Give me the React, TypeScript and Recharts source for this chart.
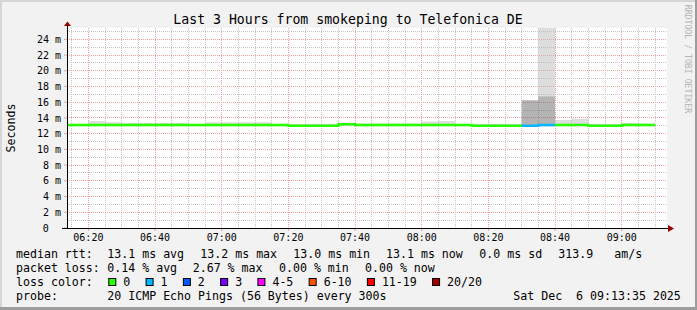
import { ComposedChart, Area, Line, XAxis, YAxis, CartesianGrid } from 'recharts';

// 5 minute slots (start time of each slot)
const slotTimes = [
  '06:10', '06:15', '06:20', '06:25', '06:30', '06:35', '06:40', '06:45', '06:50', '06:55',
  '07:00', '07:05', '07:10', '07:15', '07:20', '07:25', '07:30', '07:35', '07:40', '07:45',
  '07:50', '07:55', '08:00', '08:05', '08:10', '08:15', '08:20', '08:25', '08:30', '08:35',
  '08:40', '08:45', '08:50', '08:55', '09:00', '09:05',
];

// median rtt in ms
const medianRtt = [
  13.1, 13.1, 13.1, 13.1, 13.1, 13.1, 13.1, 13.1, 13.1, 13.1,
  13.1, 13.1, 13.1, 13.1, 13.0, 13.0, 13.0, 13.2, 13.1, 13.1,
  13.1, 13.1, 13.1, 13.1, 13.1, 13.0, 13.0, 13.0, 13.0, 13.1,
  13.1, 13.1, 13.0, 13.0, 13.1, 13.1,
];

// lost pings out of 20
const lostPings = [
  0, 0, 0, 0, 0, 0, 0, 0, 0, 0,
  0, 0, 0, 0, 0, 0, 0, 0, 0, 0,
  0, 0, 0, 0, 0, 0, 0, 0, 1, 1,
  0, 0, 0, 0, 0, 0,
];

// smoke: lowest ping, top of the dense part, highest ping (ms)
const smokeLow = [
  12.95, 12.95, 12.95, 12.95, 12.95, 12.95, 12.95, 12.95, 12.95, 12.95,
  12.95, 12.95, 12.95, 12.95, 12.9, 12.9, 12.9, 13.0, 12.95, 12.95,
  12.95, 12.95, 12.95, 12.95, 12.95, 12.9, 12.9, 12.9, 12.9, 12.95,
  12.95, 12.95, 12.9, 12.9, 12.95, 12.95,
];
const smokeDarkTop = [
  12.95, 12.95, 12.95, 12.95, 12.95, 12.95, 12.95, 12.95, 12.95, 12.95,
  12.95, 12.95, 12.95, 12.95, 13.15, 13.15, 13.15, 13.0, 12.95, 12.95,
  12.95, 12.95, 12.95, 12.95, 12.95, 13.15, 13.15, 13.15, 16.25, 16.76,
  12.95, 12.95, 13.15, 13.15, 12.95, 12.95,
];
const smokeTop = [
  13.2, 13.2, 13.6, 13.45, 13.35, 13.35, 13.35, 13.35, 13.2, 13.45,
  13.45, 13.45, 13.45, 13.2, 13.15, 13.15, 13.15, 13.4, 13.3, 13.3,
  13.3, 13.3, 13.55, 13.6, 13.2, 13.15, 13.15, 13.15, 16.25, 26,
  13.75, 13.9, 13.15, 13.15, 13.37, 13.3,
];

const timeTicks = ['06:20', '06:40', '07:00', '07:20', '07:40', '08:00', '08:20', '08:40', '09:00'];
const rttTicks = [0, 2, 4, 6, 8, 10, 12, 14, 16, 18, 20, 22, 24];

const lossLabels = ['0', '1', '2', '3', '4-5', '6-10', '11-19', '20/20'];
const lossColors = ['#26ff00', '#00b8ff', '#0059ff', '#7e00ff', '#ff00ff', '#ff5500', '#ff0000', '#a10000'];

const rttStats = ['13.1 ms avg', '13.2 ms max', '13.0 ms min', '13.1 ms now', '0.0 ms sd', '313.9', 'am/s'];
const lossStats = ['0.14 % avg', '2.67 % max', '0.00 % min', '0.00 % now'];

const MONO = '"DejaVu Sans Mono", monospace';

const toMin = (s: string) => {
  const [h, m] = s.split(':').map(Number);
  return h * 60 + m - 360;
};
const fmtMin = (v: number) => {
  const h = 6 + Math.floor(v / 60);
  const m = v % 60;
  return `${String(h).padStart(2, '0')}:${String(m).padStart(2, '0')}`;
};

const START = 13 + 35 / 60;
const END = START + 180;
const Y_MAX = 25.44;

const n = slotTimes.length;
const rows: any[] = slotTimes.map((s, i) => ({
  t: toMin(s),
  lo: smokeLow[i],
  dark: smokeDarkTop[i] - smokeLow[i],
  light: smokeTop[i] - smokeDarkTop[i],
  ok: lostPings[i] === 0 || (i > 0 && lostPings[i - 1] === 0) ? medianRtt[i] : null,
  lost1: lostPings[i] > 0 || (i > 0 && lostPings[i - 1] > 0) ? medianRtt[i] : null,
}));
// closing point so the last step has a width
rows.push({
  ...rows[n - 1],
  t: rows[n - 1].t + 5,
  ok: lostPings[n - 1] === 0 ? medianRtt[n - 1] : null,
  lost1: lostPings[n - 1] > 0 ? medianRtt[n - 1] : null,
});

const majorX = timeTicks.map(toMin);
const minorX: number[] = [];
for (let m = 15; m <= 190; m += 5) if (m % 20 !== 0) minorX.push(m);
const majorY = rttTicks.filter((v) => v > 0);
const minorY = [1, 3, 5, 7, 9, 11, 13, 15, 17, 19, 21, 23, 25];

const PLOT = { left: 67, top: 28, width: 600, height: 200 };

// grid lines snapped to whole pixels so the dots stay crisp like rrdtool
const gridX = (p: any, vals: number[]) => {
  const o = (p && p.offset) || PLOT;
  return vals.map((v) => Math.floor(o.left + ((v - START) / (END - START)) * o.width) + 0.5);
};
const gridY = (p: any, vals: number[]) => {
  const o = (p && p.offset) || PLOT;
  return vals.map((v) => Math.floor(o.top + o.height - (v / Y_MAX) * o.height) + 0.5);
};

function YTick(props: any) {
  const { x, y, payload } = props;
  const v = payload.value;
  return (
    <text x={v === 0 ? x - 12.1 : x} y={y} dy={3.6} textAnchor="end" fontFamily={MONO} fontSize={10} fill="#000">
      {v === 0 ? '0' : `${v} m`}
    </text>
  );
}

function Legend() {
  const row3: JSX.Element[] = [];
  let cx = 108.3;
  lossLabels.forEach((lab, i) => {
    row3.push(
      <rect key={'b' + i} x={cx + 0.5} y={278.5} width={7} height={7} fill={lossColors[i]} stroke="#000" strokeWidth={1} />,
    );
    row3.push(
      <text key={'t' + i} x={cx + 15} y={286}>
        {lab}
      </text>,
    );
    cx = cx + 15 + lab.length * 6.98 + 15.3;
  });
  const rttX = [107.3, 200.3, 293.3, 386, 479.3, 558.3, 614.3];
  const lossX = [107.3, 192.7, 279, 365];
  return (
    <g fontFamily={MONO} fontSize={11.6} fill="#000">
      <text x={16} y={258}>median rtt:</text>
      {rttStats.map((s, i) => (
        <text key={s + i} x={rttX[i]} y={258}>{s}</text>
      ))}
      <text x={16} y={272}>packet loss:</text>
      {lossStats.map((s, i) => (
        <text key={s + i} x={lossX[i]} y={272}>{s}</text>
      ))}
      <text x={16} y={286}>loss color:</text>
      {row3}
      <text x={16} y={300}>probe:</text>
      <text x={107.3} y={300}>20 ICMP Echo Pings (56 Bytes) every 300s</text>
      <text x={513.3} y={300} xmlSpace="preserve" style={{ whiteSpace: 'pre' }}>
        {'Sat Dec  6 09:13:35 2025'}
      </text>
    </g>
  );
}

export default function App() {
  return (
    <div style={{ position: 'absolute', left: 0, top: 0, width: 697, height: 310, background: '#f2f2f2' }}>
      <div style={{ position: 'absolute', left: 67, top: 28, width: 600, height: 200, background: '#fff' }} />
      <div style={{ position: 'absolute', left: 0, top: 0 }}>
        <ComposedChart width={697} height={310} data={rows} margin={{ top: 28, right: 30, bottom: 52, left: 7 }}>
          <XAxis
            dataKey="t"
            type="number"
            domain={[START, END]}
            allowDataOverflow
            ticks={majorX}
            interval={0}
            tickFormatter={fmtMin}
            height={30}
            axisLine={false}
            tickLine={{ stroke: '#eaa0a0' }}
            tickSize={3}
            tickMargin={3}
            tick={{ fontFamily: MONO, fontSize: 10, fill: '#000' }}
          />
          <YAxis
            type="number"
            domain={[0, Y_MAX]}
            allowDataOverflow
            ticks={rttTicks}
            interval={0}
            width={60}
            axisLine={false}
            tickLine={{ stroke: '#eaa0a0' }}
            tickSize={3}
            tickMargin={3}
            tick={<YTick />}
          />
          <Area type="stepAfter" dataKey="lo" stackId="s" stroke="none" fill="none" isAnimationActive={false} />
          <Area type="stepAfter" dataKey="dark" stackId="s" stroke="none" fill="#696969" fillOpacity={0.5} isAnimationActive={false} />
          <Area type="stepAfter" dataKey="light" stackId="s" stroke="none" fill="#bbbbbb" fillOpacity={0.5} isAnimationActive={false} />
          <CartesianGrid
            stroke="#c4c4c4"
            strokeDasharray="1 1"
            verticalCoordinatesGenerator={(p: any) => gridX(p, minorX)}
            horizontalCoordinatesGenerator={(p: any) => gridY(p, minorY)}
          />
          <CartesianGrid
            stroke="#eba0a0"
            strokeDasharray="1 1"
            verticalCoordinatesGenerator={(p: any) => gridX(p, majorX)}
            horizontalCoordinatesGenerator={(p: any) => gridY(p, majorY)}
          />
          <Line type="stepAfter" dataKey="ok" stroke={lossColors[0]} strokeWidth={2.5} dot={false} activeDot={false} connectNulls={false} isAnimationActive={false} />
          <Line type="stepAfter" dataKey="lost1" stroke={lossColors[1]} strokeWidth={2.5} dot={false} activeDot={false} connectNulls={false} isAnimationActive={false} />
        </ComposedChart>
      </div>
      <svg width={697} height={310} style={{ position: 'absolute', left: 0, top: 0, pointerEvents: 'none' }}>
        <rect x={0} y={0} width={697} height={2} fill="#d6d6d6" />
        <rect x={0} y={0} width={2} height={310} fill="#d6d6d6" />
        <rect x={0} y={307} width={697} height={3} fill="#9c9c9c" />
        <rect x={695} y={0} width={2} height={310} fill="#9c9c9c" />
        <text x={348} y={24} textAnchor="middle" fontFamily={MONO} fontSize={13.2} fill="#000">
          Last 3 Hours from smokeping to Telefonica DE
        </text>
        <text transform="translate(14.5,128) rotate(-90)" textAnchor="middle" fontFamily={MONO} fontSize={11.6} fill="#000">
          Seconds
        </text>
        <text transform="translate(684.5,4.7) rotate(90)" fontFamily={MONO} fontSize={8.2} fill="#b4b4b4">
          RRDTOOL / TOBI OETIKER
        </text>
        <line x1={67.5} y1={228} x2={67.5} y2={25} stroke="#000" strokeWidth={1} />
        <polygon points="64,26 71,26 67.5,21.5" fill="#990000" />
        <line x1={62} y1={228.5} x2={670} y2={228.5} stroke="#000" strokeWidth={1} />
        <polygon points="668,225 668,232 674,228.5" fill="#990000" />
        <Legend />
      </svg>
    </div>
  );
}
